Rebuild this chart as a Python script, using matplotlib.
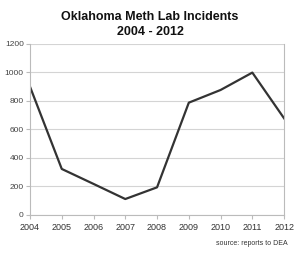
import matplotlib.pyplot as plt

years = [2004, 2005, 2006, 2007, 2008, 2009, 2010, 2011, 2012]
incidents = [900, 323, 218, 112, 194, 788, 877, 999, 678]
yticks = [0, 200, 400, 600, 800, 1000, 1200]

plt.rcParams['font.family'] = ['Liberation Sans', 'DejaVu Sans']

fig = plt.figure(figsize=(3, 2.58), dpi=100)
ax = fig.add_axes([0.1, 0.1667, 0.847, 0.663])

ax.plot(years, incidents, color='#333333', linewidth=1.6)

ax.set_xlim(2004, 2012)
ax.set_ylim(0, 1200)
ax.set_xticks(years)
ax.set_yticks(yticks)
ax.grid(axis='y', color='#d4d4d4', linewidth=0.8)
ax.set_axisbelow(True)

for s in ['left', 'right', 'bottom']:
    ax.spines[s].set_color('#bbbbbb')
    ax.spines[s].set_linewidth(0.8)
ax.spines['top'].set_visible(False)

ax.tick_params(axis='x', labelsize=6.5, colors='#bbbbbb', labelcolor='#333333',
               length=3, width=0.8, pad=2.5)
ax.tick_params(axis='y', labelsize=6, colors='#bbbbbb', labelcolor='#444444',
               length=3, width=0.8, pad=1.5)

fig.text(0.5, 0.905, 'Oklahoma Meth Lab Incidents\n2004 - 2012', ha='center', va='center',
         fontsize=9, fontweight='bold', linespacing=1.35, color='#111111')
fig.text(0.96, 0.058, 'source: reports to DEA', ha='right', va='center',
         fontsize=5, color='#333333')

fig.savefig('out.png', dpi=100)
